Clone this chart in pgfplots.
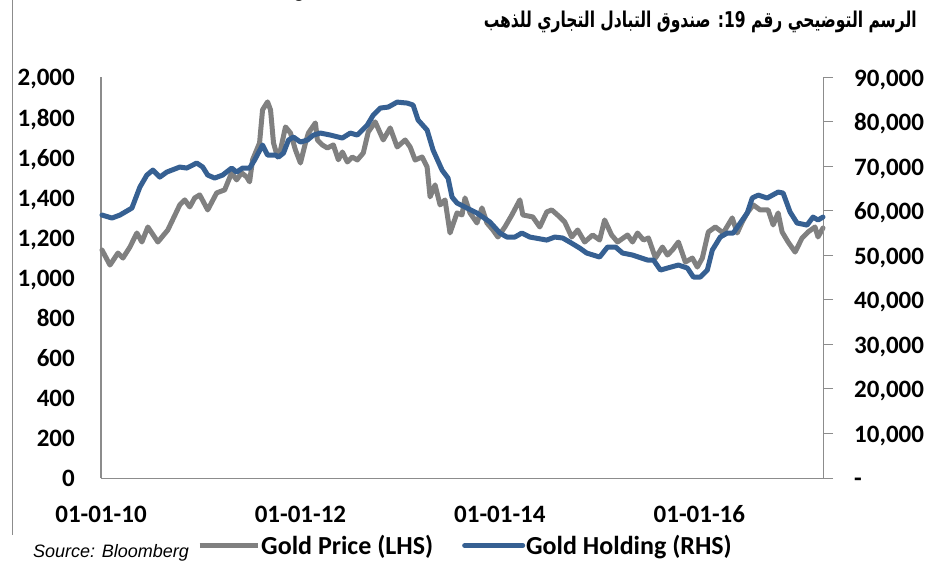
\documentclass[border=0pt]{standalone}
\usepackage{fontspec}
\usepackage{graphicx}
\usepackage{pgfplots}
\usepackage{pgfplotstable}
\pgfplotsset{compat=1.18}
\setmainfont{Carlito}
\newfontfamily\arialfont{Liberation Sans}
\newfontfamily\arabicfont[Script=Arabic]{DejaVu Sans}
\TeXXeTstate=1
\definecolor{goldgray}{RGB}{128,128,128}
\definecolor{goldblue}{RGB}{54,96,146}
\definecolor{axgray}{RGB}{140,140,140}

\pgfplotstableread{
x y
0.01 1137
0.09 1062
0.17 1122
0.22 1097
0.29 1152
0.36 1222
0.41 1177
0.47 1252
0.57 1177
0.67 1237
0.79 1362
0.84 1387
0.89 1352
0.94 1397
0.99 1412
1.07 1337
1.16 1422
1.24 1437
1.31 1522
1.36 1487
1.41 1522
1.46 1502
1.49 1477
1.52 1587
1.59 1671
1.62 1836
1.67 1876
1.70 1836
1.73 1671
1.77 1601
1.80 1636
1.85 1751
1.90 1721
1.95 1636
2.00 1571
2.05 1671
2.08 1721
2.15 1771
2.17 1686
2.22 1661
2.27 1646
2.33 1661
2.38 1587
2.42 1626
2.47 1576
2.52 1601
2.57 1586
2.63 1621
2.68 1726
2.75 1776
2.83 1686
2.90 1746
2.97 1651
3.05 1686
3.10 1651
3.15 1586
3.22 1601
3.27 1551
3.30 1402
3.35 1462
3.40 1362
3.45 1387
3.50 1222
3.57 1322
3.62 1312
3.65 1397
3.70 1322
3.77 1272
3.82 1347
3.87 1272
3.93 1237
3.98 1202
4.05 1252
4.12 1312
4.20 1387
4.23 1312
4.33 1302
4.40 1252
4.47 1327
4.52 1337
4.60 1302
4.65 1277
4.72 1202
4.78 1237
4.85 1177
4.93 1212
5.00 1187
5.05 1287
5.12 1212
5.18 1177
5.28 1212
5.33 1177
5.38 1222
5.44 1187
5.49 1197
5.56 1097
5.63 1152
5.68 1112
5.73 1137
5.79 1177
5.86 1077
5.93 1097
5.98 1052
6.03 1097
6.09 1227
6.16 1252
6.24 1222
6.33 1297
6.38 1222
6.43 1277
6.48 1322
6.54 1362
6.61 1337
6.69 1337
6.74 1262
6.79 1322
6.83 1227
6.89 1177
6.96 1127
7.03 1197
7.09 1227
7.16 1252
7.19 1202
7.24 1247
}\pricetable

\pgfplotstableread{
x y
0.01 59017
0.11 58344
0.19 59017
0.31 60590
0.39 65300
0.46 67990
0.52 69110
0.59 67540
0.66 68666
0.79 69790
0.86 69565
0.96 70690
1.02 69790
1.07 67990
1.14 67320
1.22 67990
1.31 69565
1.36 68666
1.42 69565
1.49 69565
1.54 71360
1.62 74730
1.67 72480
1.75 72480
1.78 72030
1.83 72930
1.88 75850
1.93 76520
2.00 75400
2.07 75850
2.13 76970
2.20 77420
2.30 76970
2.42 76300
2.50 77420
2.57 76970
2.67 79210
2.73 81460
2.80 83030
2.88 83250
2.97 84370
3.07 84150
3.13 83700
3.18 80340
3.27 78090
3.33 73600
3.42 69110
3.48 67320
3.52 63060
3.57 61710
3.65 60810
3.77 59470
3.90 57450
4.00 54980
4.07 54080
4.15 54080
4.22 54980
4.30 54080
4.47 53400
4.55 54080
4.63 53860
4.70 52960
4.80 51610
4.87 50490
5.00 49590
5.08 51840
5.16 51840
5.23 50490
5.33 50040
5.48 48920
5.54 48920
5.61 46670
5.68 47120
5.79 47800
5.88 47120
5.94 45100
6.01 45100
6.08 46670
6.13 51160
6.21 54080
6.28 54980
6.34 54980
6.41 57220
6.48 59470
6.53 62830
6.59 63500
6.68 62830
6.79 64180
6.84 63960
6.91 59690
6.98 57220
7.08 56770
7.14 58570
7.19 57900
7.24 58570
}\holdtable

\begin{document}
\begin{tikzpicture}[x=1pt,y=1pt]
\useasboundingbox (0,0) rectangle (935,560);
\draw[axgray, line width=1pt] (12,560) -- (12,25);
\node[anchor=base, inner sep=0pt] at (299,562) {\arialfont\bfseries\fontsize{18}{18}\selectfont g};
\node[anchor=base east, inner sep=0pt] at (917,532) {\scalebox{1}[1.4]{\resizebox{433pt}{!}{\arabicfont\bfseries\beginR الرسم التوضيحي رقم \beginL19\endL{}: صندوق التبادل التجاري للذهب\endR}}};
\node[anchor=base west, inner sep=0pt] at (33,3) {\arialfont\itshape\fontsize{18}{18}\selectfont Source: Bloomberg};

\begin{axis}[at={(101pt,82pt)}, anchor=south west, scale only axis,
  width=722pt, height=401pt,
  xmin=0, xmax=7.24, ymin=0, ymax=2000,
  axis x line*=bottom, axis y line*=left,
  axis line style={axgray, line width=1pt, -},
  major tick length=0pt,
  xtick={0,2,4,6}, xticklabels={01-01-10,01-01-12,01-01-14,01-01-16},
  ytick={0,200,...,2000},
  yticklabels={0,200,400,600,800,{1,000},{1,200},{1,400},{1,600},{1,800},{2,000}},
  ticklabel style={font=\bfseries\fontsize{25}{25}\selectfont, inner sep=0pt},
  xticklabel style={anchor=base, yshift=-44pt},
  yticklabel style={anchor=base east, xshift=-26pt, yshift=-9pt},
  clip=false]
\addplot[goldgray, line width=5pt, line join=round, line cap=round] table[x=x,y=y] {\pricetable};
\end{axis}

\begin{axis}[at={(101pt,82pt)}, anchor=south west, scale only axis,
  width=722pt, height=401pt,
  xmin=0, xmax=7.24, ymin=0, ymax=90000,
  axis x line=none, axis y line*=right,
  axis line style={axgray, line width=1pt, -},
  scaled y ticks=false,
  ytick={0,10000,...,90000},
  yticklabels={-,{10,000},{20,000},{30,000},{40,000},{50,000},{60,000},{70,000},{80,000},{90,000}},
  tick align=outside, major tick length=10pt,
  ytick style={axgray, line width=1pt},
  ticklabel style={font=\bfseries\fontsize{25}{25}\selectfont, inner sep=0pt},
  yticklabel style={anchor=base west, xshift=21pt, yshift=-9pt},
  legend style={at={(0.133,-0.1685)}, anchor=west, draw=none, fill=none,
    legend columns=2, font=\bfseries\fontsize{26}{26}\selectfont,
    /tikz/every even column/.append style={column sep=28pt},
    inner sep=0pt, nodes={inner sep=1pt}},
  legend image code/.code={\draw[#1, line width=5pt] (0pt,0pt) -- (58pt,0pt);},
  clip=false]
\addlegendimage{goldgray}
\addlegendentry{Gold Price (LHS)}
\addplot[goldblue, line width=5pt, line join=round, line cap=round] table[x=x,y=y] {\holdtable};
\addlegendentry{Gold Holding (RHS)}
\end{axis}
\end{tikzpicture}
\end{document}
